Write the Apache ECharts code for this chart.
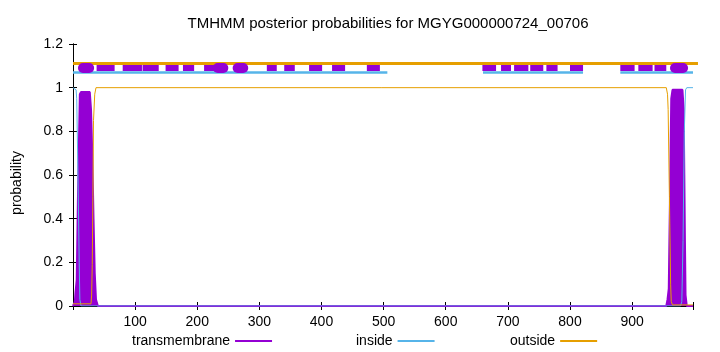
<!DOCTYPE html>
<html>
<head>
<meta charset="utf-8">
<script src="https://cdn.jsdelivr.net/npm/echarts@6/dist/echarts.min.js"></script>
<style>html,body{margin:0;padding:0;background:#fff}#c{width:720px;height:352px}</style>
</head>
<body>
<div id="c"></div>
<script>
const titleText = 'TMHMM posterior probabilities for MGYG000000724_00706';
const yAxisTitle = 'probability';
const seqLength = 998;
const yTicks = [0, 0.2, 0.4, 0.6, 0.8, 1, 1.2];
const xTickStep = 100;

// posterior curves (residue, probability)
const transmembrane = [[0,0],[3,0.02],[4,0.06],[6,0.12],[8,0.5],[11,0.97],[13,0.98],[27,0.98],[29,0.9],[31,0.7],[33,0.4],[35,0.15],[37,0.03],[40,0],
  [955,0],[957,0.03],[959,0.08],[961,0.5],[963,0.95],[965,0.99],[981,0.99],[983,0.9],[984,0.6],[985,0.3],[986,0.05],[988,0],[998,0]];
const inside = [[0,1],[5,0.99],[6,0.95],[8,0.6],[10,0.2],[11,0.03],[13,0],[978,0],[980,0.02],[982,0.3],[984,0.8],[986,0.99],[988,1],[998,1]];
const outside = [[0,0.01],[29,0.01],[30,0.05],[31,0.19],[32,0.5],[33,0.85],[35,0.97],[37,1],[955,1],[957,0.97],[958,0.9],[960,0.5],[962,0.1],[963,0.02],[965,0.005],[998,0.005]];

// predicted topology bands at top
const outsideBandY = 1.113;
const outsideBand = [[0, 1006]];
const insideBandY = 1.072;
const insideBand = [[0, 506], [660, 821], [881, 998]];
const tmBandY = 1.09;
const tmBoxes = [[38,67],[80,111],[112,138],[149,170],[177,195],[211,227],[312,328],[340,357],[380,401],[417,438],[473,494],
  [659,681],[689,705],[710,733],[736,757],[762,780],[800,821],[881,904],[910,933],[936,955]];
const tmBlobs = [[16,26],[233,242],[265,274],[969,982]];

const cPurple = '#9400d3', cBlue = '#56b4e9', cOrange = '#e69f00';
const font = 'Liberation Sans, Arial, sans-serif';

function segs(list, y) { return list.map(s => ({ coords: [[s[0], y], [s[1], y]] })); }

const chart = echarts.init(document.getElementById('c'), null, { renderer: 'canvas' });
const axisCommon = {
  axisLine: { show: true, lineStyle: { color: '#000', width: 1 } },
  axisTick: { show: true, inside: true, length: 4, lineStyle: { color: '#000' } },
  splitLine: { show: false }
};
const legendText = { fontFamily: font, fontSize: 14, color: '#000' };
chart.setOption({
  animation: false,
  backgroundColor: '#fff',
  title: { text: titleText, left: 383, textAlign: 'center', top: 11,
    textStyle: { fontFamily: font, fontSize: 15, fontWeight: 'normal', color: '#000' } },
  graphic: [{ type: 'text', x: 17, y: 183, rotation: Math.PI / 2,
    style: { text: yAxisTitle, fontFamily: font, fontSize: 14, fill: '#000', align: 'center', verticalAlign: 'middle' } }],
  grid: { left: 73, top: 44, width: 620, height: 262 },
  legend: [
    { data: ['transmembrane'], left: 132, top: 334, align: 'right', padding: 0, itemWidth: 37, itemHeight: 1, textStyle: legendText },
    { data: ['inside'], left: 356, top: 334, align: 'right', padding: 0, itemWidth: 37, itemHeight: 1, textStyle: legendText },
    { data: ['outside'], left: 510, top: 334, align: 'right', padding: 0, itemWidth: 37, itemHeight: 1, textStyle: legendText }
  ],
  xAxis: [
    Object.assign({ type: 'value', min: 0, max: seqLength, interval: xTickStep, position: 'bottom',
      axisLabel: { fontFamily: font, fontSize: 14, color: '#000', margin: 9,
        formatter: v => (v > 0 && v % xTickStep === 0) ? String(v) : '' } }, axisCommon),
    Object.assign({ type: 'value', min: 0, max: seqLength, interval: xTickStep, position: 'top',
      axisLabel: { show: false } }, axisCommon)
  ],
  yAxis: [
    Object.assign({ type: 'value', min: yTicks[0], max: yTicks[yTicks.length - 1], interval: 0.2, position: 'left',
      axisLabel: { fontFamily: font, fontSize: 14, color: '#000', margin: 10,
        formatter: v => String(Math.round(v * 10) / 10) } }, axisCommon),
    Object.assign({ type: 'value', min: 0, max: 1.2, interval: 0.2, position: 'right',
      axisLabel: { show: false } }, axisCommon)
  ],
  series: [
    { name: 'transmembrane', type: 'line', data: transmembrane, symbol: 'none', color: cPurple,
      lineStyle: { color: cPurple, width: 2 }, areaStyle: { color: cPurple, opacity: 1 }, z: 2 },
    { name: 'inside', type: 'line', data: inside, symbol: 'none', color: cBlue,
      lineStyle: { color: cBlue, width: 1 }, z: 3 },
    { name: 'outside', type: 'line', data: outside, symbol: 'none', color: cOrange,
      lineStyle: { color: cOrange, width: 1 }, z: 4 },
    { type: 'lines', coordinateSystem: 'cartesian2d', data: segs(insideBand, insideBandY), silent: true,
      lineStyle: { color: cBlue, width: 2.5, opacity: 1 }, z: 5 },
    { type: 'lines', coordinateSystem: 'cartesian2d', data: segs(outsideBand, outsideBandY), silent: true, clip: false,
      lineStyle: { color: cOrange, width: 3, opacity: 1 }, z: 5 },
    { type: 'lines', coordinateSystem: 'cartesian2d', data: segs(tmBoxes, tmBandY), silent: true,
      lineStyle: { color: cPurple, width: 6, opacity: 1, cap: 'butt' }, z: 6 },
    { type: 'lines', coordinateSystem: 'cartesian2d', data: segs(tmBlobs, tmBandY), silent: true,
      lineStyle: { color: cPurple, width: 10, opacity: 1, cap: 'round' }, z: 6 }
  ]
});
</script>
</body>
</html>
